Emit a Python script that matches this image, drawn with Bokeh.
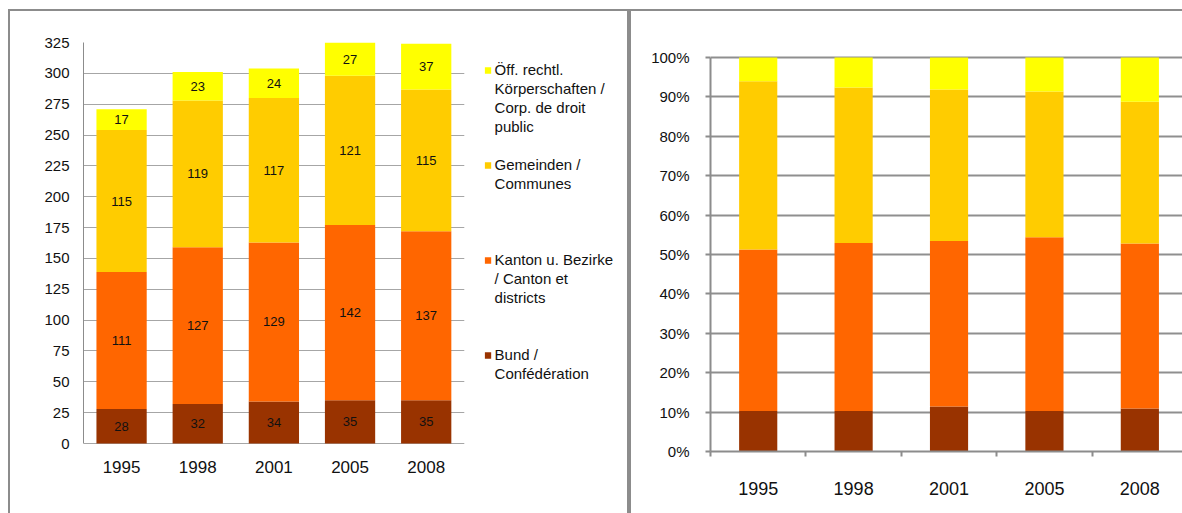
import numpy as np
from bokeh.plotting import figure
from bokeh.models import (ColumnDataSource, Range1d, FixedTicker, Legend, LegendItem,
                          CustomJSTickFormatter, PrintfTickFormatter, Spacer, BoxAnnotation)
from bokeh.core.properties import value
from bokeh.layouts import row, column
from bokeh.embed import file_html
from bokeh.resources import INLINE

# ---------------- data ----------------
years = ["1995", "1998", "2001", "2005", "2008"]
bund = [28, 32, 34, 35, 35]
kanton = [111, 127, 129, 142, 137]
gemeinden = [115, 119, 117, 121, 115]
oeff = [17, 23, 24, 27, 37]

# shares (%)
bund_pct = [10.3, 10.3, 11.4, 10.3, 10.9]
kanton_pct = [41.0, 42.6, 42.0, 44.1, 41.9]
gemeinden_pct = [42.7, 39.5, 38.5, 37.0, 36.0]
oeff_pct = [6.0, 7.6, 8.1, 8.6, 11.2]

series_keys = ["bund", "kanton", "gemeinden", "oeff"]
series_names = ["Bund /\nConfédération",
                "Kanton u. Bezirke\n/ Canton et\ndistricts",
                "Gemeinden /\nCommunes",
                "Öff. rechtl.\nKörperschaften /\nCorp. de droit\npublic"]
colors = ["#993300", "#FF6600", "#FFCC00", "#FFFF00"]
abs_ticks = list(range(0, 326, 25))
pct_ticks = list(range(0, 101, 10))

FONT = "Liberation Sans"
AXIS_GRAY = "#8c8c8c"
BORDER = "2px solid #8c8c8c"
TXT = "#111111"

n = len(years)
xpos = [i + 0.5 for i in range(n)]
year_fmt = CustomJSTickFormatter(args=dict(labels=years),
                                 code="return labels[Math.round(tick - 0.5)] || '';")

# both plot areas share the same vertical extent (page y 42..451);
# the value ranges are stretched so that each chart's scale sits where it does
# in the original (left: 0 at y=443, 325 at y=42; right: 0% at y=451, 100% at y=57)
FRAME_TOP, FRAME_BOTTOM = 42, 451
left_px_per_unit = (443 - 42) / 325.0
left_y_start = -(FRAME_BOTTOM - 443) / left_px_per_unit
right_px_per_unit = (451 - 57) / 100.0
right_y_end = (FRAME_BOTTOM - FRAME_TOP) / right_px_per_unit

# ---------------- left chart (absolute) ----------------
src = ColumnDataSource(dict(x=xpos, bund=bund, kanton=kanton,
                            gemeinden=gemeinden, oeff=oeff))

# plot area also holds the legend; categories occupy the first n units
p1 = figure(width=621, height=504, x_range=Range1d(0, n * 544 / 378),
            y_range=Range1d(left_y_start, 325),
            title=None, output_backend="svg", toolbar_location=None,
            min_border_left=73, min_border_right=0,
            min_border_top=31, min_border_bottom=64)
renderers = p1.vbar_stack(series_keys, x="x", width=0.66, fill_color=colors,
                          line_color=None, source=src)
# invisible renderer used for the continuation lines of the legend
ghost = p1.vbar(x="x", top="oeff", width=0.66, source=src, fill_alpha=0, line_alpha=0)

# value labels in the middle of each segment
vals = [bund, kanton, gemeinden, oeff]
lx, ly, lt = [], [], []
bottoms = np.zeros(n)
for v in vals:
    v = np.array(v, dtype=float)
    for i in range(n):
        lx.append(xpos[i])
        ly.append(bottoms[i] + v[i] / 2)
        lt.append(str(int(v[i])))
    bottoms += v
lsrc = ColumnDataSource(dict(x=lx, y=ly, t=lt))
p1.text(x="x", y="y", text="t", source=lsrc, text_align="center",
        text_baseline="middle", text_font_size="13px",
        text_font=value(FONT), text_color=TXT)

p1.xaxis.ticker = FixedTicker(ticks=xpos)
p1.xaxis.formatter = year_fmt
p1.yaxis.ticker = FixedTicker(ticks=abs_ticks)
p1.yaxis.bounds = (0, 325)
p1.ygrid.ticker = FixedTicker(ticks=abs_ticks)
p1.ygrid.grid_line_color = "#a6a6a6"
p1.xgrid.grid_line_color = None
p1.outline_line_color = None
for ax in (p1.xaxis[0], p1.yaxis[0]):
    ax.axis_line_color = AXIS_GRAY
    ax.major_tick_line_color = None
    ax.minor_tick_line_color = None
    ax.major_tick_out = 0
    ax.major_tick_in = 0
    ax.major_label_text_font = FONT
    ax.major_label_text_color = TXT
p1.xaxis.axis_line_color = None
p1.yaxis.major_label_text_font_size = "15px"
p1.yaxis.major_label_standoff = 14
p1.xaxis.major_label_text_font_size = "17px"
p1.xaxis.major_label_standoff = 9

# white area to the right of the categories (legend zone, no grid lines)
p1.add_layout(BoxAnnotation(left=n, fill_color="white", fill_alpha=1.0,
                            line_color=None, level="underlay"))

# legend: one entry per text line, top series first; every series uses 5 line slots
SLOTS = 5
legend_items = []
for name, r in reversed(list(zip(series_names, renderers))):
    lines = name.split("\n")
    legend_items.append(LegendItem(label=lines[0], renderers=[r]))
    for ln in lines[1:]:
        legend_items.append(LegendItem(label=ln, renderers=[ghost]))
    if r is not renderers[0]:
        for _ in range(SLOTS - len(lines)):
            legend_items.append(LegendItem(label="\u00a0", renderers=[ghost]))
legend = Legend(items=legend_items, location="top_right", padding=0, margin=18, spacing=0,
                glyph_width=8, glyph_height=8, label_standoff=3, label_height=19,
                label_text_font=FONT, label_text_font_size="15px",
                label_text_color=TXT, border_line_color=None, background_fill_alpha=0)
p1.add_layout(legend, "center")

p1.styles = {"border-top": BORDER, "border-left": BORDER, "border-right": BORDER}

# ---------------- right chart (shares) ----------------
src2 = ColumnDataSource(dict(x=xpos, bund=bund_pct, kanton=kanton_pct,
                             gemeinden=gemeinden_pct, oeff=oeff_pct))
p2 = figure(width=553, height=504, x_range=Range1d(0, 4.968),
            y_range=Range1d(0, right_y_end),
            title=None, output_backend="svg", toolbar_location=None,
            min_border_left=79, min_border_right=0,
            min_border_top=31, min_border_bottom=64)
p2.vbar_stack(series_keys, x="x", width=0.4, fill_color=colors, line_color=None, source=src2)

p2.xaxis.ticker = FixedTicker(ticks=xpos, minor_ticks=list(range(n)))
p2.xaxis.formatter = year_fmt
p2.yaxis.ticker = FixedTicker(ticks=pct_ticks)
p2.yaxis.formatter = PrintfTickFormatter(format="%d%%")
p2.yaxis.bounds = (0, 100)
p2.ygrid.ticker = FixedTicker(ticks=pct_ticks)
p2.ygrid.grid_line_color = "#8f8f8f"
p2.ygrid.grid_line_width = 2
p2.xgrid.grid_line_color = None
p2.outline_line_color = None

xa, ya = p2.xaxis[0], p2.yaxis[0]
for ax in (xa, ya):
    ax.axis_line_color = AXIS_GRAY
    ax.axis_line_width = 2
    ax.major_label_text_font = FONT
    ax.major_label_text_color = TXT
xa.major_tick_line_color = None
xa.major_tick_out = 0
xa.major_tick_in = 0
xa.minor_tick_line_color = AXIS_GRAY
xa.minor_tick_line_width = 2
xa.minor_tick_out = 5
xa.minor_tick_in = 0
xa.major_label_text_font_size = "18px"
xa.major_label_standoff = 25
ya.major_tick_line_color = AXIS_GRAY
ya.major_tick_line_width = 2
ya.major_tick_out = 5
ya.major_tick_in = 0
ya.minor_tick_line_color = None
ya.major_label_text_font_size = "15px"
ya.major_label_standoff = 16

p2.styles = {"border-top": BORDER, "border-left": BORDER}

p = column(Spacer(height=9), row(Spacer(width=8), p1, p2))
open("out.html", "w").write(file_html(p, INLINE))
